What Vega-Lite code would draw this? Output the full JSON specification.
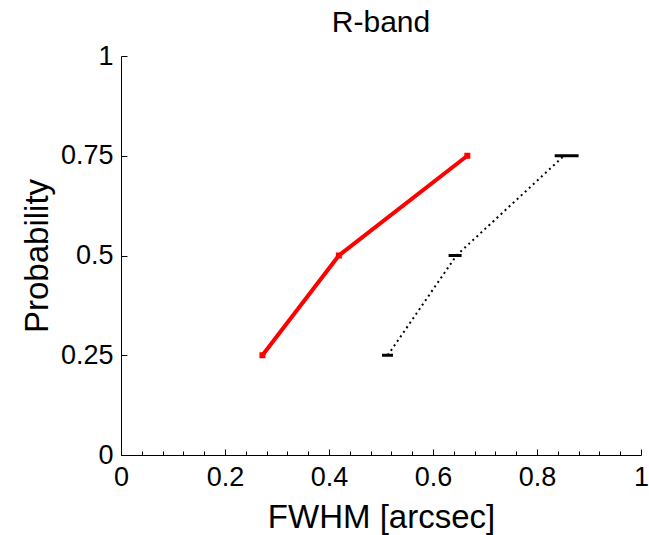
{
  "$schema": "https://vega.github.io/schema/vega-lite/v6.json",
  "width": 520,
  "height": 399,
  "autosize": {"type": "none"},
  "padding": {"left": 121, "top": 56, "right": 8, "bottom": 80},
  "background": "white",
  "config": {"view": {"stroke": null}, "font": "Liberation Sans"},
  "title": {"text": "R-band", "fontSize": 30, "fontWeight": "normal", "color": "black", "font": "Liberation Sans", "anchor": "middle", "baseline": "alphabetic", "offset": 8, "dy": 28},
  "resolve": {"axis": {"x": "independent"}},
  "datasets": {
    "red": [
      {"fwhm": 0.272, "p": 0.25},
      {"fwhm": 0.419, "p": 0.5},
      {"fwhm": 0.666, "p": 0.75}
    ],
    "black": [
      {"fwhm": 0.513, "lo": 0.502, "hi": 0.523, "p": 0.25},
      {"fwhm": 0.645, "lo": 0.630, "hi": 0.655, "p": 0.5},
      {"fwhm": 0.852, "lo": 0.834, "hi": 0.880, "p": 0.75}
    ]
  },
  "layer": [
    {
      "data": {"name": "black"},
      "mark": {"type": "line", "color": "black", "strokeWidth": 2, "strokeDash": [2, 3.5]},
      "encoding": {
        "x": {
          "field": "fwhm", "type": "quantitative", "title": "FWHM [arcsec]",
          "scale": {"domain": [0, 1], "nice": false, "zero": false},
          "axis": {
            "orient": "bottom",
            "values": [0, 0.2, 0.4, 0.6, 0.8, 1],
            "format": ".1~f",
            "tickSize": -6, "tickColor": "black", "tickWidth": 1,
            "domainColor": "black", "domainWidth": 1,
            "labelFontSize": 27, "labelColor": "black", "labelFont": "Liberation Sans", "labelPadding": 15,
            "labelFlush": false, "labelOverlap": false,
            "titleFontSize": 33, "titleFontWeight": "normal", "titleColor": "black", "titleFont": "Liberation Sans",
            "titleY": 72, "titleBaseline": "alphabetic",
            "grid": false
          }
        },
        "y": {
          "field": "p", "type": "quantitative", "title": "Probability",
          "scale": {"domain": [0, 1], "nice": false, "zero": false},
          "axis": {
            "values": [0, 0.25, 0.5, 0.75, 1],
            "format": ".2~f",
            "tickSize": -6, "tickColor": "black", "tickWidth": 1,
            "domainColor": "black", "domainWidth": 1,
            "labelFontSize": 27, "labelColor": "black", "labelFont": "Liberation Sans", "labelPadding": 14,
            "labelFlush": false, "labelOverlap": false,
            "titleFontSize": 33, "titleFontWeight": "normal", "titleColor": "black", "titleFont": "Liberation Sans",
            "titleX": -74, "titleBaseline": "alphabetic",
            "grid": false
          }
        }
      }
    },
    {
      "data": {"name": "black"},
      "mark": {"type": "rule", "color": "black", "strokeWidth": 3},
      "encoding": {
        "x": {
          "field": "lo", "type": "quantitative", "title": null,
          "axis": {
            "orient": "bottom",
            "values": [0.04, 0.08, 0.12, 0.16, 0.24, 0.28, 0.32, 0.36, 0.44, 0.48, 0.52, 0.56, 0.64, 0.68, 0.72, 0.76, 0.84, 0.88, 0.92, 0.96],
            "labels": false, "domain": false, "grid": false,
            "tickSize": -4, "tickColor": "black", "tickWidth": 1
          }
        },
        "x2": {"field": "hi"},
        "y": {"field": "p", "type": "quantitative", "title": "Probability"}
      }
    },
    {
      "data": {"name": "red"},
      "mark": {"type": "line", "color": "#ff0000", "strokeWidth": 4},
      "encoding": {
        "x": {"field": "fwhm", "type": "quantitative", "axis": null},
        "y": {"field": "p", "type": "quantitative", "title": "Probability"}
      }
    },
    {
      "data": {"name": "red"},
      "mark": {"type": "point", "shape": "square", "filled": true, "color": "#ff0000", "size": 36, "opacity": 1},
      "encoding": {
        "x": {"field": "fwhm", "type": "quantitative", "axis": null},
        "y": {"field": "p", "type": "quantitative", "title": "Probability"}
      }
    }
  ]
}
